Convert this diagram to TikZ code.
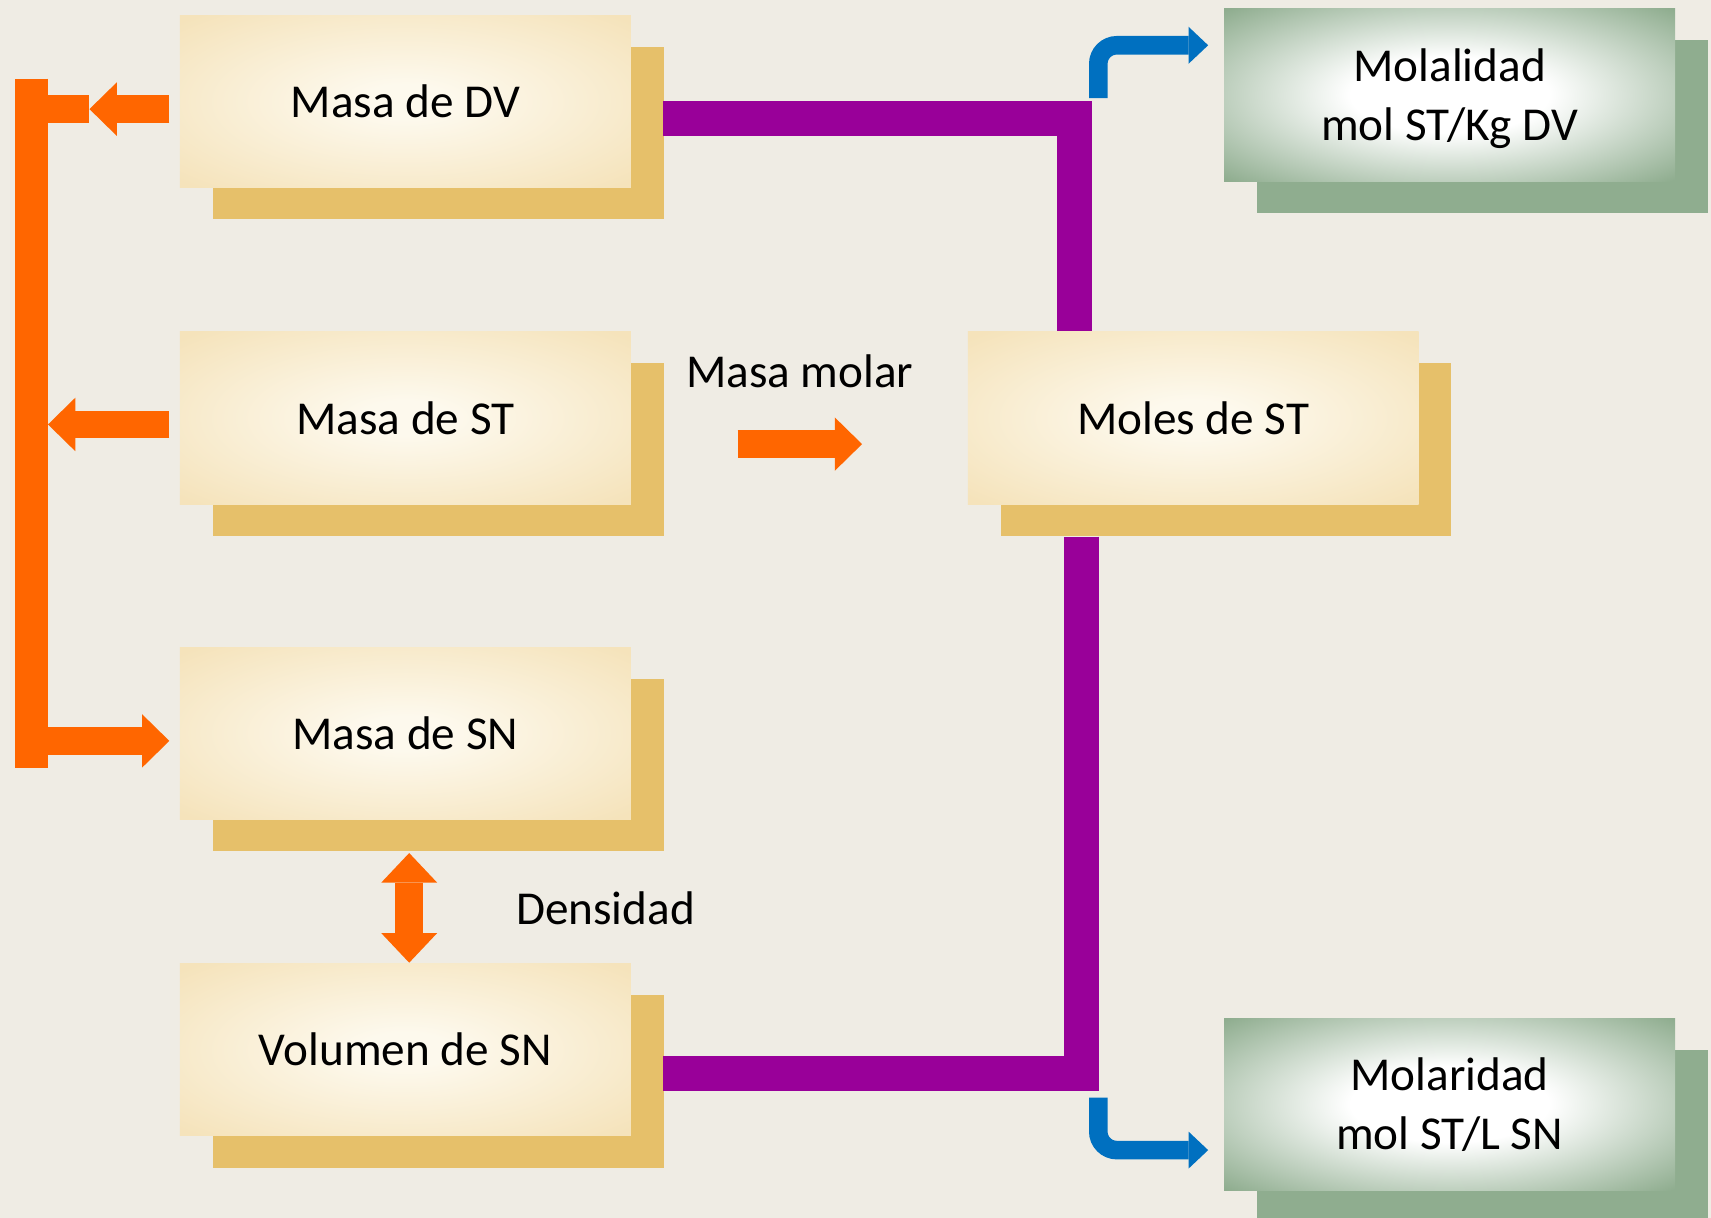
\documentclass[tikz,border=0pt]{standalone}
\usepackage{fontspec}
\setmainfont{Carlito}
\usetikzlibrary{arrows.meta,shadows}

\definecolor{paper}{RGB}{239,236,228}
\definecolor{creamin}{RGB}{253,249,237}
\definecolor{creamout}{RGB}{245,227,187}
\definecolor{gold}{RGB}{230,192,106}
\definecolor{sage}{RGB}{143,173,143}
\definecolor{plum}{RGB}{153,0,153}
\definecolor{flame}{RGB}{255,102,0}
\definecolor{sky}{RGB}{0,112,192}

\pgfdeclareradialshading{creamglow}{\pgfpoint{0bp}{0bp}}{color(0bp)=(creamin); color(5bp)=(creamin); color(34bp)=(creamout); color(50bp)=(creamout)}
\pgfdeclareradialshading{sageglow}{\pgfpoint{0bp}{0bp}}{color(0bp)=(white); color(11bp)=(white); color(35bp)=(sage); color(50bp)=(sage)}

\tikzset{
  card/.style={minimum width=4.13cm, minimum height=1.58cm, inner sep=0pt, align=center,
    font=\fontsize{12.3}{15.4}\selectfont},
  qtybox/.style={card, shading=creamglow,
    drop shadow={shadow xshift=.30cm, shadow yshift=-.29cm, opacity=1, fill=gold}},
  resultbox/.style={card, shading=sageglow,
    drop shadow={shadow xshift=.30cm, shadow yshift=-.29cm, opacity=1, fill=sage}},
  plaintext/.style={inner sep=0pt, font=\fontsize{12.3}{15.4}\selectfont},
  plumline/.style={plum, line width=.32cm, line join=miter},
  flamebar/.style={flame, line width=.30cm},
  flamearrow/.style={flame, line width=.25cm, -{Triangle[length=.25cm, width=.49cm, line width=0pt]}},
  flamedouble/.style={flame, line width=.26cm,
    {Triangle[length=.27cm, width=.51cm, line width=0pt]}-{Triangle[length=.27cm, width=.51cm, line width=0pt]}},
  skyarrow/.style={sky, line width=.17cm, rounded corners=.17cm, -{Triangle[length=.18cm, width=.34cm, line width=0pt]}}
}

\begin{document}
\begin{tikzpicture}[x=0.01cm, y=-0.01cm]
        \useasboundingbox (0,0) rectangle (1568,1116);
        \fill[paper] (0,0) rectangle (1568,1116);

        % Quantities.
        \node[qtybox] (dv) at (371.5,93) {Masa de DV};
        \node[qtybox] (st) at (371.5,383) {Masa de ST};
        \node[qtybox] (sn) at (371.5,672) {Masa de SN};
        \node[qtybox] (vol) at (371.5,962) {Volumen de SN};
        \node[qtybox] (moles) at (1093.5,383) {Moles de ST};

        % Results.
        \node[resultbox] (molal) at (1328.5,87) {Molalidad\\\smash{mol ST/Kg DV}};
        \node[resultbox] (molar) at (1328.5,1012) {Molaridad\\mol ST/L SN};

        % Bracket on the left.
        \coordinate (bktop) at (29,72);
        \coordinate (bkbot) at (29,704);
        \draw[flamebar] (bktop) -- (bkbot);
        \draw[flame, line width=.25cm] (44,100) -- (82,100);
        \draw[flamearrow] ([shift={(-9,7)}]dv.west) -- (82,100);
        \draw[flamearrow] ([shift={(-9,6)}]st.west) -- (44,389);
        \draw[flamearrow] (44,679) -- ([shift={(-9,7)}]sn.west);

        % Masa molar, densidad.
        \node[plaintext] (mm) at (733,340) {Masa molar};
        \draw[flamearrow] (676,407) -- (790,407);
        \node[plaintext] (dens) at (555,832) {Densidad};
        \draw[flamedouble] ([shift={(3.5,30)}]sn.south) -- ([shift={(3.5,0)}]vol.north);

        % Paths to moles.
        \draw[plumline] ([shift={(29,16)}]dv.east) -| ([shift={(-108.5,0)}]moles.north);
        \draw[plumline] ([shift={(-102,29)}]moles.south) |- ([shift={(29,22)}]vol.east);

        % Outputs.
        \draw[skyarrow] (1006.5,90) -- (1006.5,41.5) -- ([shift={(-14,-45.5)}]molal.west);
        \draw[skyarrow] (1006.5,1006) -- (1006.5,1054) -- ([shift={(-14,42)}]molar.west);
    \end{tikzpicture}
\end{document}
